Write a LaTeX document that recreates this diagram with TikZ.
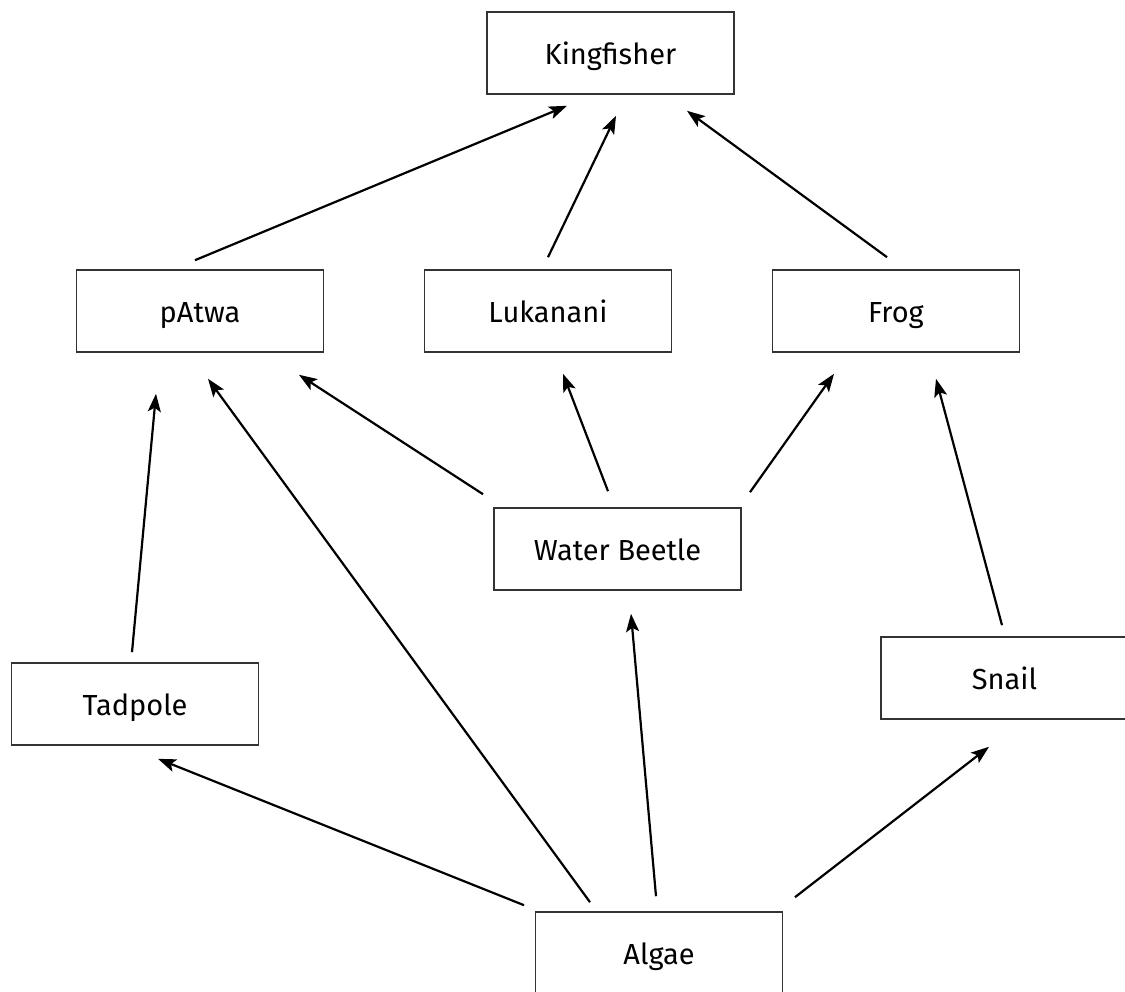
\documentclass[tikz,border=0pt]{standalone}
\usepackage{fontspec}
\setmainfont{Fira Sans}
\usetikzlibrary{arrows.meta}
\tikzset{
  box/.style={draw=black!80, line width=1.6pt, minimum width=247pt, minimum height=82pt, inner sep=0pt, text height=22.5pt, text depth=0pt, font=\fontsize{29}{32}\selectfont},
  arr/.style={draw=black, line width=2.2pt, -{Stealth[length=18pt, width=13pt, inset=4pt]}}
}
\begin{document}
\begin{tikzpicture}[x=1pt,y=-1pt]
\useasboundingbox (0,0) rectangle (1125,992);
\node[box] (king)  at (610.5,53)  {Kingfisher};
\node[box] (patwa) at (200,311)   {pAtwa};
\node[box] (luk)   at (548,311)   {Lukanani};
\node[box] (frog)  at (896,311)   {Frog};
\node[box] (wb)    at (617.5,549) {Water Beetle};
\node[box] (tad)   at (135,704)   {Tadpole};
\node[box] (snail) at (1004.5,678) {Snail};
\node[box] (algae) at (659,953)   {Algae};

\draw[arr] ([shift={(-5,-9)}]patwa.north) -- ([shift={(-43.5,11)}]king.south);
\draw[arr] ([shift={(0,-12)}]luk.north) -- ([shift={(5.5,21)}]king.south);
\draw[arr] ([shift={(-9,-12)}]frog.north) -- ([shift={(76.5,16)}]king.south);
\draw[arr] ([shift={(-134.5,-13)}]wb.north) -- ([shift={(99,22)}]patwa.south);
\draw[arr] ([shift={(-9.5,-16)}]wb.north) -- ([shift={(15,21)}]luk.south);
\draw[arr] ([shift={(132.5,-15)}]wb.north) -- ([shift={(-62,21)}]frog.south);
\draw[arr] ([shift={(-2.5,-11)}]snail.north) -- ([shift={(40,26)}]frog.south);
\draw[arr] ([shift={(-3,-10)}]tad.north) -- ([shift={(-44,41)}]patwa.south);
\draw[arr] ([shift={(-69,-9)}]algae.north) -- ([shift={(8,26)}]patwa.south);
\draw[arr] ([shift={(-3,-15)}]algae.north) -- ([shift={(13.5,23)}]wb.south);
\draw[arr] ([shift={(-135,-6)}]algae.north) -- ([shift={(23,13)}]tad.south);
\draw[arr] ([shift={(136,-14)}]algae.north) -- ([shift={(-15.5,27)}]snail.south);
\end{tikzpicture}
\end{document}
